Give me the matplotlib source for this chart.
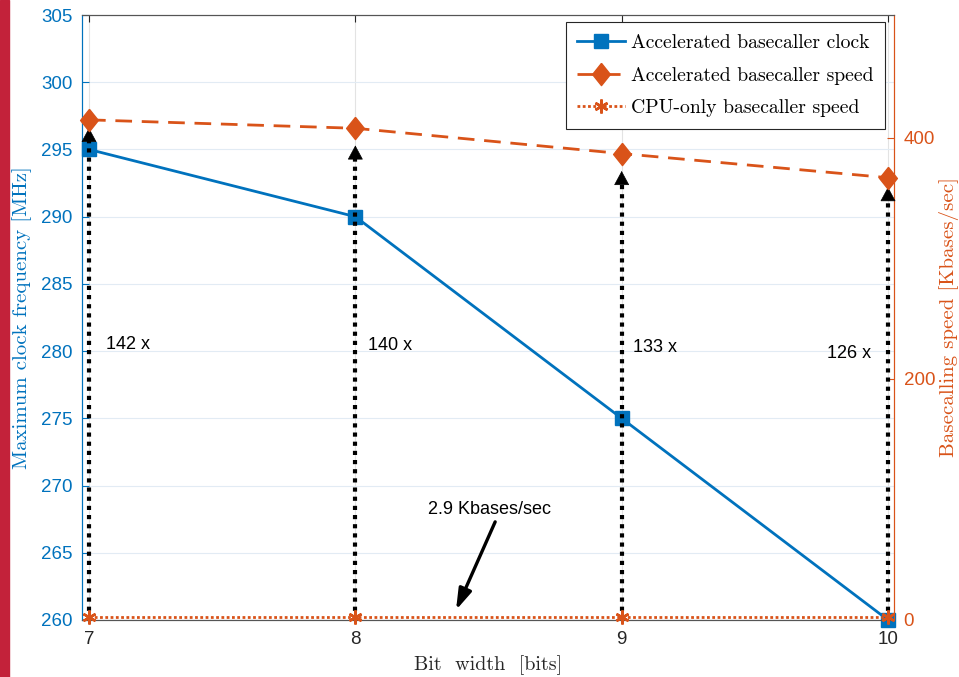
import matplotlib
matplotlib.use("Agg")
import matplotlib.pyplot as plt
from matplotlib.patches import Rectangle
from matplotlib.lines import Line2D

# ---- data ----
bit_width = [7, 8, 9, 10]
clock_mhz = [295, 290, 275, 260]
accel_speed = [415, 408, 387, 367]
cpu_speed = [2.9, 2.9, 2.9, 2.9]
arrow_tips = [296.6, 295.3, 293.4, 292.2]        # in MHz-axis units
speedup_labels = ["142 x", "140 x", "133 x", "126 x"]
speedup_x = [7.064, 8.048, 9.042, 9.771]
speedup_y = [280.5, 280.4, 280.3, 279.8]
left_ticks = [260, 265, 270, 275, 280, 285, 290, 295, 300, 305]
right_ticks = [0, 200, 400]

BLUE = "#0072BD"
ORANGE = "#D95319"
TICKFONT = "Liberation Sans"
SERIF = "cmr10"

W, H = 959, 677
fig = plt.figure(figsize=(W / 100, H / 100), dpi=100)
fig.patches.append(Rectangle((0, 0), 9 / W, 1, transform=fig.transFigure,
                             color="#C3223A", zorder=0))

ax1 = fig.add_axes([82 / W, 1 - 620 / H, (894 - 82) / W, (620 - 15) / H])
ax2 = ax1.twinx()

ax1.set_xlim(6.9737, 10.0225)
ax1.set_ylim(260, 305)
ax2.set_ylim(0, 502)
K = 502 / 45.0


def to_right(v):
    return (v - 260) * K


# grid
ax1.set_axisbelow(True)
ax1.grid(True, axis="x", color="#e3e3e3", lw=0.8)
ax1.grid(True, axis="y", color="#e2ebf4", lw=0.8)

# blue clock line
ax1.plot(bit_width, clock_mhz, color=BLUE, lw=2, marker="s", ms=9.5,
         mfc=BLUE, mec=BLUE, clip_on=False, zorder=3)

# dotted arrows
for x, tip in zip(bit_width, arrow_tips):
    ax2.plot([x, x], [0, to_right(tip - 0.7)], color="black", lw=3,
             dashes=(1, 1.2), dash_capstyle="butt", zorder=4, clip_on=False)
    ax2.annotate("", xy=(x, to_right(tip)), xytext=(x, to_right(tip - 0.8)),
                 arrowprops=dict(arrowstyle="-|>,head_length=0.52,head_width=0.28",
                                 mutation_scale=18, color="black", lw=0.5,
                                 shrinkA=0, shrinkB=0), zorder=5)

# orange speed lines
diamond = [(0, 1), (0.8, 0), (0, -1), (-0.8, 0), (0, 1)]
ax2.plot(bit_width, accel_speed, color=ORANGE, lw=2, dashes=(6, 3.5),
         marker=diamond, ms=16, mfc=ORANGE, mec=ORANGE, zorder=6, clip_on=False)
ax2.plot(bit_width, cpu_speed, color=ORANGE, lw=2, dashes=(1, 0.9),
         marker=(6, 2, 0), ms=10, mew=1.8, mec=ORANGE, zorder=6, clip_on=False)

# speedup labels
for lab, x, y in zip(speedup_labels, speedup_x, speedup_y):
    ax1.text(x, y, lab, fontsize=13, family=TICKFONT, ha="left", va="center",
             color="black", zorder=7)

# CPU annotation
ax1.text(8.273, 268.2, "2.9 Kbases/sec", fontsize=13, family=TICKFONT,
         ha="left", va="center", zorder=7)
ax1.annotate("", xy=(8.378, 260.74), xytext=(8.525, 267.3),
             arrowprops=dict(arrowstyle="-|>,head_length=0.7,head_width=0.22",
                             mutation_scale=18, color="black", lw=2.4,
                             shrinkA=0, shrinkB=0), zorder=7)

# ticks & spines
ax1.set_xticks(bit_width)
ax1.set_xticklabels([str(b) for b in bit_width], family=TICKFONT, fontsize=13.5,
                    color="#262626")
ax1.set_yticks(left_ticks)
ax1.set_yticklabels([str(t) for t in left_ticks], family=TICKFONT, fontsize=13.5,
                    color=BLUE)
ax2.set_yticks(right_ticks)
ax2.set_yticklabels([str(t) for t in right_ticks], family=TICKFONT, fontsize=13.5,
                    color=ORANGE)
ax1.tick_params(axis="x", direction="in", top=True, length=5, width=0.8,
                color="#262626", pad=8)
ax1.tick_params(axis="y", direction="in", length=5, width=0.8, color=BLUE, pad=7)
ax2.tick_params(axis="y", direction="in", length=5, width=0.8, color=ORANGE, pad=7)

for ax in (ax1, ax2):
    ax.spines["top"].set_color("#555555")
    ax.spines["bottom"].set_color("#555555")
    ax.spines["left"].set_color(BLUE)
    ax.spines["right"].set_color(ORANGE)
    for s in ax.spines.values():
        s.set_linewidth(0.8)

ax1.set_xlabel("Bit  width  [bits]", family=SERIF, fontsize=14.5, color="#262626",
               labelpad=5)
ax1.set_ylabel("Maximum clock frequency [MHz]", family=SERIF, fontsize=15,
               color=BLUE, labelpad=6)
ax2.set_ylabel("Basecalling speed [Kbases/sec]", family=SERIF, fontsize=15,
               color=ORANGE, labelpad=3)

# legend
h1 = Line2D([], [], color=BLUE, lw=2, marker="s", ms=9.5, mfc=BLUE, mec=BLUE)
h2 = Line2D([], [], color=ORANGE, lw=2, dashes=(6, 3.5), marker=diamond, ms=16,
            mfc=ORANGE, mec=ORANGE)
h3 = Line2D([], [], color=ORANGE, lw=2, dashes=(1, 0.9), marker=(6, 2, 0), ms=10,
            mew=1.8, mec=ORANGE)
leg = ax2.legend([h1, h2, h3],
                 ["Accelerated basecaller clock", "Accelerated basecaller speed",
                  "CPU-only basecaller speed"],
                 loc="upper right", bbox_to_anchor=(1 - 9 / 812, 1 - 7 / 605),
                 borderaxespad=0,
                 prop=dict(family=SERIF, size=14.2), frameon=True, fancybox=False,
                 edgecolor="#262626", framealpha=1, handlelength=2.4,
                 handletextpad=0.3, borderpad=0.6, labelspacing=0.75)
leg.get_frame().set_linewidth(0.8)
leg.set_zorder(10)

fig.savefig("out.png", dpi=100)
